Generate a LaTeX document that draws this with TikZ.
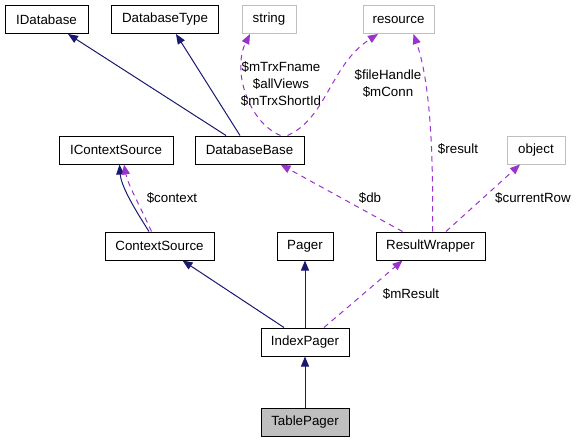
\documentclass[tikz,border=0pt]{standalone}
\usepackage{fontspec}
\setmainfont{Liberation Sans}
\usetikzlibrary{arrows.meta,calc}
\definecolor{inhcol}{RGB}{25,25,112}
\definecolor{usecol}{RGB}{154,50,205}
\definecolor{greyedge}{RGB}{191,191,191}
\begin{document}
\begin{tikzpicture}[x=0.75pt,y=-0.75pt,
  cls/.style={draw=black,line width=0.75pt,fill=white,inner sep=0pt,minimum height=21pt,font=\fontsize{10}{12}\selectfont},
  ext/.style={cls,draw=greyedge},
  cur/.style={cls,fill=greyedge},
  inh/.style={draw=inhcol,line width=0.75pt,-{Triangle[length=7.5pt,width=6pt]}},
  use/.style={draw=usecol,line width=0.75pt,dash pattern=on 4pt off 3.5pt,-{Triangle[length=7.5pt,width=6pt]}},
  lbl/.style={font=\fontsize{10}{12.75}\selectfont,align=center,inner sep=0pt}]
\useasboundingbox (0,0) rectangle (576,443);
% nodes
\node[cls,minimum width=62.25pt] (IDatabase) at (46.5,19.5) {IDatabase};
\node[cls,minimum width=80.25pt] (DatabaseType) at (165,19.5) {DatabaseType};
\node[ext,minimum width=40.5pt] (string) at (269,19.5) {string};
\node[ext,minimum width=53.25pt] (resource) at (398.5,19.5) {resource};
\node[cls,minimum width=85.5pt] (IContextSource) at (116,150) {IContextSource};
\node[cls,minimum width=81.75pt] (DatabaseBase) at (249.5,150) {DatabaseBase};
\node[ext,minimum width=43.5pt] (object) at (536,150) {object};
\node[cls,minimum width=81.75pt] (ContextSource) at (159.5,246) {ContextSource};
\node[cls,minimum width=42pt] (Pager) at (305,246) {Pager};
\node[cls,minimum width=81.75pt] (ResultWrapper) at (430.5,246) {ResultWrapper};
\node[cls,minimum width=66pt] (IndexPager) at (305,342) {IndexPager};
\node[cur,minimum width=66pt] (TablePager) at (305,422) {TablePager};
% inheritance
\draw[inh] ($(DatabaseBase.north)+(-23.5,0)$) -- ($(IDatabase.south)+(21.5,0)$);
\draw[inh] ($(DatabaseBase.north)+(-9.5,0)$) -- ($(DatabaseType.south)+(11,0)$);
\draw[inh] ($(ContextSource.north)+(-10.5,0)$) .. controls (132,205) and (121,185) .. ($(IContextSource.south)+(3.5,0)$);
\draw[inh] ($(IndexPager.north)+(-21,0)$) -- ($(ContextSource.south)+(23,0)$);
\draw[inh] (IndexPager.north) -- (Pager.south);
\draw[inh] (TablePager.north) -- (IndexPager.south);
% usage
\draw[use] ($(DatabaseBase.north)+(31,0)$) .. controls (248,122) and (232,70) .. ($(string.south)+(-19,0)$);
\node[lbl] (lblstr) at (281,84) {\$mTrxFname\\\$allViews\\\$mTrxShortId};
\draw[use] ($(DatabaseBase.north)+(38,0)$) .. controls (327,118) and (330,65) .. ($(resource.south)+(-20.5,0)$);
\node[lbl] (lblres) at (388,84) {\$fileHandle\\\$mConn};
\draw[use] ($(ResultWrapper.north)+(2,0)$) .. controls (433,180) and (433,90) .. ($(resource.south)+(15,0)$);
\node[lbl] (lblresult) at (458,149) {\$result};
\draw[use] ($(ResultWrapper.north)+(-28,0)$) -- ($(DatabaseBase.south)+(31,0)$);
\node[lbl] (lbldb) at (370,198) {\$db};
\draw[use] ($(ResultWrapper.north)+(15.5,0)$) -- ($(object.south)+(-16,0)$);
\node[lbl] (lblrow) at (533,198) {\$currentRow};
\draw[use] ($(ContextSource.north)+(-8,0)$) .. controls (142,210) and (128,185) .. ($(IContextSource.south)+(8,0)$);
\node[lbl] (lblctx) at (172,198) {\$context};
\draw[use] ($(IndexPager.north)+(19,0)$) -- ($(ResultWrapper.south)+(-28,0)$);
\node[lbl] (lblmres) at (411,294) {\$mResult};
\end{tikzpicture}
\end{document}
